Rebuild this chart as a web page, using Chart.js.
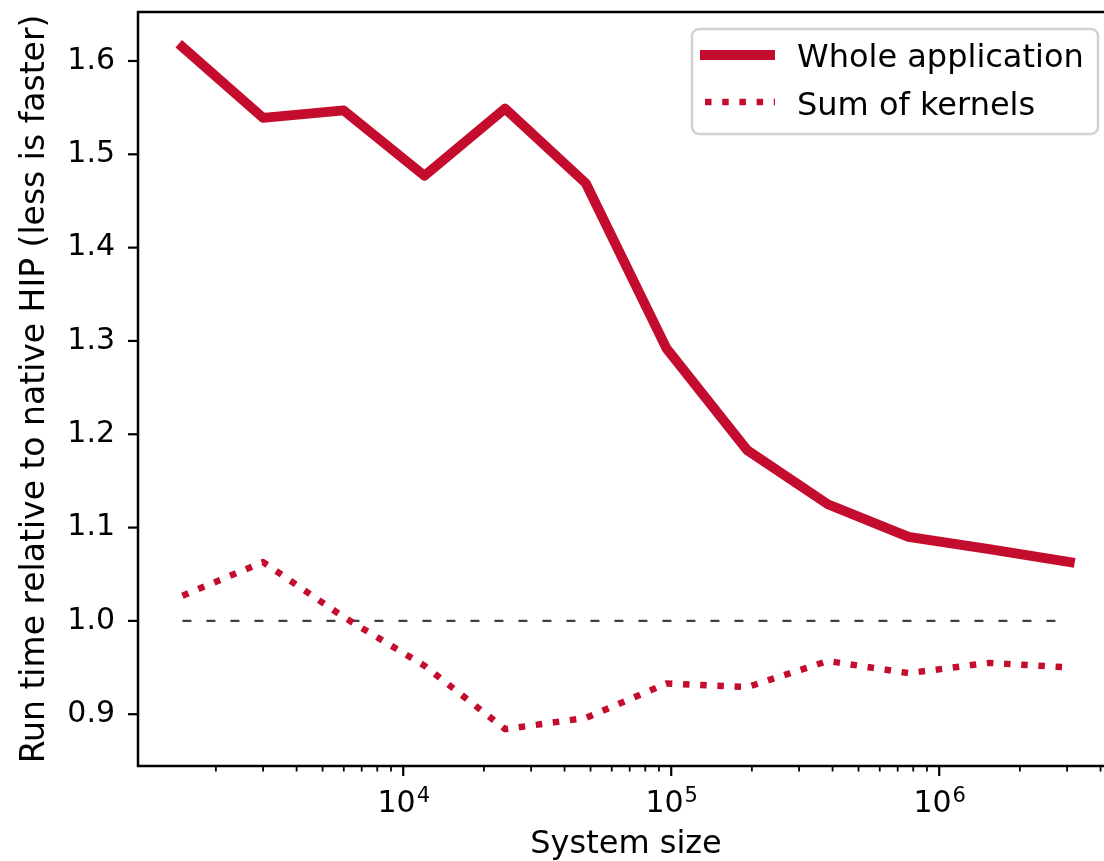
<!DOCTYPE html>
<html>
<head>
<meta charset="utf-8">
<script src="https://cdn.jsdelivr.net/npm/chart.js@4.4.0/dist/chart.umd.min.js"></script>
<style>
  html, body { margin: 0; padding: 0; overflow: hidden; background: #fff; }
  canvas { display: block; }
</style>
</head>
<body>
<canvas id="grafico" width="1114" height="861"></canvas>
<script>
// Tamaños del sistema y tiempos relativos
const sizes = [1500, 3000, 6000, 12000, 24000, 48000, 96000, 192000, 384000, 768000, 1536000, 3072000];
const wholeApp = [1.615, 1.539, 1.547, 1.477, 1.549, 1.469, 1.292, 1.183, 1.125, 1.090, 1.077, 1.063];
const sumKernels = [1.027, 1.063, 1.004, 0.952, 0.884, 0.896, 0.933, 0.929, 0.957, 0.944, 0.955, 0.950];
const referencia = [1.0, 1.0];
const etiquetas = ['Whole application', 'Sum of kernels'];

const yTicks = [0.9, 1.0, 1.1, 1.2, 1.3, 1.4, 1.5, 1.6];
const xTicks = [1e4, 1e5, 1e6];
const xTickBase = '10';
const xTickExp = ['4', '5', '6'];

const rojo = '#c40d2e';
Chart.defaults.font.family = 'DejaVu Sans';
Chart.defaults.color = '#000';

const puntos = (ys) => ys.map((y, i) => ({ x: sizes[i], y: y }));

// Marcas de los ejes, bordes, etiquetas 10^n y leyenda
const ejes = {
  id: 'ejes',
  afterDraw(chart) {
    const { ctx, chartArea: a, scales: { x, y } } = chart;
    const linea = (x1, y1, x2, y2) => {
      ctx.beginPath(); ctx.moveTo(x1, y1); ctx.lineTo(x2, y2); ctx.stroke();
    };
    ctx.save();
    ctx.strokeStyle = '#000';
    ctx.lineWidth = 2.2;
    yTicks.forEach(v => {
      const py = y.getPixelForValue(v);
      linea(a.left - 10, py, a.left, py);
    });
    xTicks.forEach(v => {
      const px = x.getPixelForValue(v);
      linea(px, a.bottom, px, a.bottom + 10);
    });
    ctx.lineWidth = 1.8;
    for (let e = 3; e <= 6; e++) {
      for (let m = 2; m <= 9; m++) {
        const v = m * Math.pow(10, e);
        if (v <= x.min || v >= x.max) continue;
        const px = x.getPixelForValue(v);
        linea(px, a.bottom, px, a.bottom + 5.5);
      }
    }
    // etiquetas 10^n
    ctx.fillStyle = '#000';
    ctx.textBaseline = 'alphabetic';
    ctx.textAlign = 'left';
    xTicks.forEach((v, i) => {
      const px = x.getPixelForValue(v);
      ctx.font = '30px "DejaVu Sans"';
      const wb = ctx.measureText(xTickBase).width;
      ctx.font = '21px "DejaVu Sans"';
      const we = ctx.measureText(xTickExp[i]).width;
      const x0 = px - (wb + we) / 2;
      ctx.font = '30px "DejaVu Sans"';
      ctx.fillText(xTickBase, x0, a.bottom + 46);
      ctx.font = '21px "DejaVu Sans"';
      ctx.fillText(xTickExp[i], x0 + wb + 1, a.bottom + 36);
    });
    // bordes
    ctx.lineWidth = 2.5;
    ctx.beginPath();
    ctx.moveTo(a.right, a.top);
    ctx.lineTo(a.left, a.top);
    ctx.lineTo(a.left, a.bottom);
    ctx.lineTo(a.right, a.bottom);
    ctx.stroke();

    // leyenda
    const lx = 692, ly = 29, lw = 406, lh = 105;
    ctx.fillStyle = 'rgba(255,255,255,0.8)';
    ctx.strokeStyle = '#d2d2d2';
    ctx.lineWidth = 2.5;
    ctx.beginPath();
    ctx.roundRect(lx, ly, lw, lh, 7);
    ctx.fill();
    ctx.stroke();
    const filas = [55, 102];
    const bases = [67, 115];
    chart.data.datasets.slice(0, 2).forEach((ds, i) => {
      ctx.strokeStyle = ds.borderColor;
      ctx.lineWidth = ds.borderWidth;
      ctx.lineCap = 'butt';
      ctx.setLineDash(ds.borderDash || []);
      linea(i === 0 ? 700 : 705, filas[i], 775, filas[i]);
      ctx.setLineDash([]);
      ctx.fillStyle = '#000';
      ctx.font = '32px "DejaVu Sans"';
      ctx.fillText(ds.label, 797, bases[i]);
    });
    ctx.restore();
  }
};

const config = {
  type: 'line',
  data: {
    datasets: [
      {
        label: etiquetas[0],
        data: puntos(wholeApp),
        borderColor: rojo,
        borderWidth: 9.8,
        borderCapStyle: 'square',
        borderJoinStyle: 'round',
        pointRadius: 0,
        tension: 0,
        fill: false
      },
      {
        label: etiquetas[1],
        data: puntos(sumKernels),
        borderColor: rojo,
        borderWidth: 6.5,
        borderDash: [6.5, 10.7],
        borderCapStyle: 'butt',
        borderJoinStyle: 'round',
        pointRadius: 0,
        tension: 0,
        fill: false
      },
      {
        label: 'referencia',
        data: [{ x: sizes[0], y: referencia[0] }, { x: sizes[sizes.length - 1], y: referencia[1] }],
        borderColor: '#3f3f3f',
        borderWidth: 2.4,
        borderDash: [9, 15],
        pointRadius: 0,
        fill: false
      }
    ]
  },
  options: {
    responsive: false,
    animation: false,
    devicePixelRatio: 1,
    layout: { padding: { top: 12, left: 0, right: 0, bottom: 0 } },
    plugins: { legend: { display: false }, tooltip: { enabled: false } },
    scales: {
      x: {
        type: 'logarithmic',
        min: 1024,
        max: 4.49e6,
        afterBuildTicks: (s) => { s.ticks = xTicks.map(v => ({ value: v, major: true })); },
        afterFit: (s) => { s.height = 95; s.paddingLeft = 0; s.paddingRight = 0; },
        grid: { display: true, drawOnChartArea: false, drawTicks: false },
        border: { display: false },
        ticks: { display: false },
        title: {
          display: true,
          text: 'System size',
          font: { size: 32, lineHeight: 1 },
          padding: { top: 0, bottom: 0 }
        }
      },
      y: {
        type: 'linear',
        min: 0.8445,
        max: 1.6525,
        afterBuildTicks: (s) => { s.ticks = yTicks.map(v => ({ value: v })); },
        afterFit: (s) => { s.width = 138; s.paddingTop = 0; s.paddingBottom = 0; },
        grid: { display: true, drawOnChartArea: false, drawTicks: false },
        border: { display: false },
        ticks: {
          autoSkip: false,
          padding: 23,
          font: { size: 30 },
          callback: (v) => Number(v).toFixed(1)
        },
        title: {
          display: true,
          text: 'Run time relative to native HIP (less is faster)',
          font: { size: 33, lineHeight: 1 },
          padding: { top: 19, bottom: 0 }
        }
      }
    }
  },
  plugins: [ejes]
};

const myChart = new Chart(document.getElementById('grafico'), config);
</script>
</body>
</html>
